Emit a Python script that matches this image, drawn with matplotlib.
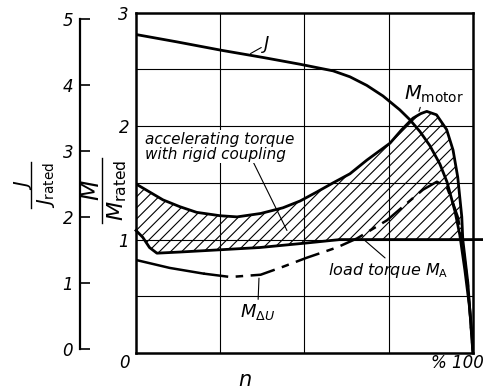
import numpy as np
from matplotlib import pyplot as plt

# speed n in % of synchronous speed
n_J = [0, 12, 25.5, 38, 48.7, 58.5, 63.5, 68.5, 73.3, 78.3, 81.3, 84.3, 87.2, 90.2,
       92.3, 94.7, 96.1, 97.6, 99.1, 100]
J = [4.76, 4.65, 4.52, 4.41, 4.31, 4.21, 4.12, 3.99, 3.83, 3.62, 3.47, 3.29, 3.08, 2.80,
     2.53, 2.08, 1.73, 1.20, 0.59, 0.0]

n_motor = [0, 4, 8, 13, 18, 25, 30, 37, 43.6, 48.7, 53.7, 58.5, 63.5, 68.5, 75.4, 78.9,
           82.2, 84.5, 86.3, 89.2, 92.2, 94.1, 95.5, 96.7, 97, 98.5, 100]
M_motor = [1.49, 1.42, 1.35, 1.29, 1.24, 1.21, 1.20, 1.23, 1.28, 1.34, 1.42, 1.50, 1.58,
           1.70, 1.85, 1.97, 2.07, 2.11, 2.13, 2.10, 1.97, 1.79, 1.55, 1.20, 1.00, 0.62, 0.0]

n_load = [0, 2, 4, 6.2, 13, 25, 36.8, 50.7, 60.5, 97, 100, 103]
M_load = [1.08, 1.02, 0.93, 0.88, 0.89, 0.91, 0.93, 0.97, 1.0, 1.0, 1.0, 1.0]

n_du = [0, 10, 20, 28, 37, 43.6, 50.7, 59.6, 65.6, 74.5, 80, 85.2, 89.3, 92.3, 94.1,
        95.5, 96.7, 98.5, 100]
M_du = [0.82, 0.75, 0.70, 0.67, 0.69, 0.76, 0.84, 0.93, 1.01, 1.17, 1.31, 1.44, 1.51,
        1.46, 1.32, 1.20, 1.02, 0.60, 0.0]

M_ticks = [1, 2, 3]
J_ticks = [0, 1, 2, 3, 4, 5]

plt.rcParams['font.family'] = ['DejaVu Sans']
plt.rcParams['hatch.linewidth'] = 0.8

W, H = 483, 390
fig = plt.figure(figsize=(W / 100, H / 100), dpi=100)
ax = fig.add_axes([0.2816, 0.0949, 0.6975, 0.8725])
ax.set_xlim(0, 100)
ax.set_ylim(0, 3)

# grid
for gx in [25, 50, 75]:
    ax.axvline(gx, color='k', lw=0.8, zorder=1)
for gy in [0.5, 1, 1.5, 2, 2.5]:
    ax.axhline(gy, color='k', lw=0.8, zorder=1)

# hatched accelerating torque area
nm = np.array(n_motor)
nl = np.array(n_load)
mm = np.array(M_motor)
ml = np.array(M_load)
px = np.concatenate([nm[nm <= 97], nl[nl <= 97][::-1]])
py = np.concatenate([mm[nm <= 97], ml[nl <= 97][::-1]])
ax.fill(px, py, facecolor='none', edgecolor='k', hatch='///', lw=0, zorder=2)

ax.plot(n_motor, M_motor, color='k', lw=2.0, zorder=4, solid_joinstyle='round')
ax.plot(n_load, M_load, color='k', lw=2.0, zorder=4, clip_on=False)
nd = np.array(n_du)
md = np.array(M_du)
ax.plot(nd[nd <= 20], md[nd <= 20], color='k', lw=1.8, zorder=4)
ax.plot(nd[nd >= 20], md[nd >= 20], color='k', lw=1.8, zorder=4, dashes=(10, 3, 3, 3))

for s in ax.spines.values():
    s.set_linewidth(1.8)
ax.set_xticks([])
ax.set_yticks(M_ticks)
ax.set_yticklabels([str(t) for t in M_ticks])
ax.tick_params(length=0, labelsize=12, pad=5)
for lab in ax.get_yticklabels():
    lab.set_style('italic')
ax.text(-1.8, -0.09, '0', fontsize=12, style='italic', ha='right', va='center')
ax.text(87.5, -0.09, '% 100', fontsize=12, style='italic', ha='left', va='center',
        clip_on=False)
ax.text(32.3, -0.24, 'n', fontsize=15, style='italic', ha='center', va='center')

# J curve on its own scale
axj = ax.twinx()
axj.set_ylim(-0.06, 5.09)
axj.plot(n_J, J, color='k', lw=2.0, zorder=4, solid_joinstyle='round')
for side in ['right', 'top', 'bottom']:
    axj.spines[side].set_visible(False)
axj.spines['left'].set_position(('axes', -0.166))
axj.spines['left'].set_bounds(0, 5)
axj.spines['left'].set_linewidth(1.6)
axj.yaxis.set_ticks_position('left')
axj.yaxis.set_label_position('left')
axj.set_yticks(J_ticks)
axj.set_yticklabels([str(t) for t in J_ticks])
axj.tick_params(axis='y', direction='in', length=7, width=1.2, labelsize=12, pad=5)
for lab in axj.get_yticklabels():
    lab.set_style('italic')


# axis labels as rotated fractions
def frac_label(x_num, x_bar, x_den, yc, y0, y1, num, den, fs_num, fs_den):
    fig.text(x_num / W, 1 - yc / H, num, rotation=90, fontsize=fs_num,
             ha='center', va='center')
    fig.text(x_den / W, 1 - yc / H, den, rotation=90, fontsize=fs_den,
             ha='center', va='center')
    fig.add_artist(plt.Line2D([x_bar / W, x_bar / W], [1 - y0 / H, 1 - y1 / H],
                              transform=fig.transFigure, color='k', lw=1.0))


frac_label(23, 31, 46, 185, 162, 208, r'$J$', r'$J_{\mathrm{rated}}$', 14, 14)
frac_label(92, 102, 117, 190, 158, 223, r'$M$', r'$M_{\mathrm{rated}}$', 17, 16)

ax.annotate('J', xy=(34, 2.64), xytext=(38, 2.72), fontsize=13, style='italic',
            ha='left', va='center',
            arrowprops=dict(arrowstyle='-', color='k', lw=0.8, shrinkA=0, shrinkB=0))
ax.annotate(r'$M_{\mathrm{motor}}$', xy=(84, 2.13), xytext=(79.5, 2.19), fontsize=14,
            ha='left', va='bottom',
            arrowprops=dict(arrowstyle='-', color='k', lw=0.8, shrinkA=0, shrinkB=0,
                            relpos=(0.3, 0.1)))
ax.annotate('accelerating torque\nwith rigid coupling', xy=(44.8, 1.08), xytext=(2.8, 1.82),
            fontsize=11, style='italic', ha='left', va='center', linespacing=1.0,
            bbox=dict(facecolor='white', edgecolor='none', pad=1),
            arrowprops=dict(arrowstyle='-', color='k', lw=0.8, shrinkA=0, shrinkB=0,
                            relpos=(0.72, 0)))
ax.annotate(r'load torque $M_{\mathrm{A}}$', xy=(68, 0.99), xytext=(57, 0.73),
            fontsize=11.5, style='italic', ha='left', va='center',
            arrowprops=dict(arrowstyle='-', color='k', lw=0.8, shrinkA=0, shrinkB=0,
                            relpos=(0.5, 1)))
ax.annotate(r'$M_{\Delta U}$', xy=(36.5, 0.66), xytext=(31, 0.36), fontsize=13,
            ha='left', va='center',
            arrowprops=dict(arrowstyle='-', color='k', lw=0.8, shrinkA=0, shrinkB=0,
                            relpos=(0.5, 1)))

fig.savefig('out.png', dpi=100)
